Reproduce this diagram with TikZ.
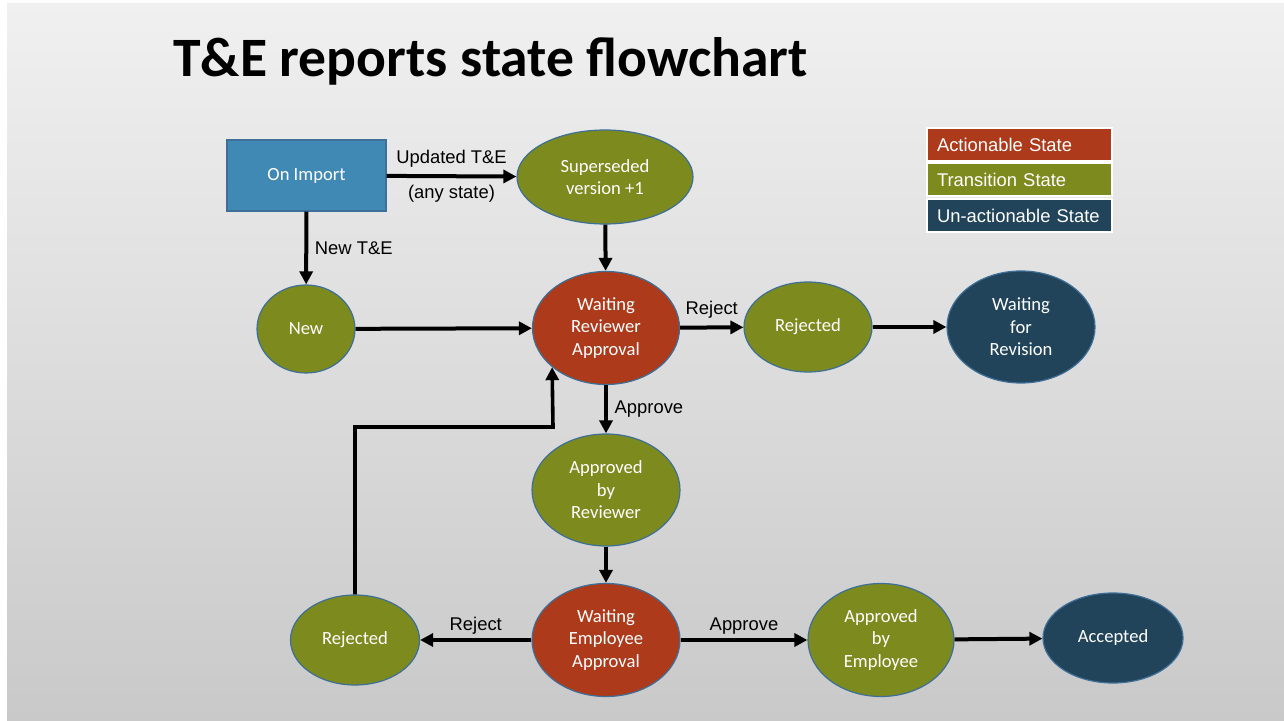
\documentclass[tikz,border=0pt]{standalone}
\usepackage{fontspec}
\setmainfont{Carlito}
\newfontfamily\arialfont{Liberation Sans}
\usetikzlibrary{arrows.meta,shapes.geometric}

\definecolor{actred}{HTML}{AD3A1B}
\definecolor{tranolive}{HTML}{7D8A1E}
\definecolor{unactblue}{HTML}{21445B}
\definecolor{importblue}{HTML}{4189B5}
\definecolor{rimblue}{HTML}{3E6F98}
\definecolor{bgtop}{HTML}{F0F0F0}
\definecolor{bgbot}{HTML}{C9C9C9}

\begin{document}
\begin{tikzpicture}[x=0.5pt, y=-0.5pt,
    state/.style={ellipse, draw=rimblue, line width=0.6pt, text=white, align=center,
        inner sep=1pt, font=\fontsize{9.3}{11.25}\selectfont},
    act/.style={state, fill=actred},
    tran/.style={state, fill=tranolive},
    unact/.style={state, fill=unactblue},
    lbl/.style={font=\arialfont\fontsize{9.2}{11}\selectfont, text=black},
    key/.style={rectangle, draw=white, line width=1pt, text=white, align=left,
        inner xsep=5pt, text width=82.5pt, minimum height=16.5pt,
        font=\arialfont\fontsize{9.2}{11}\selectfont},
    flow/.style={draw, -{Triangle[length=6.5pt,width=6.5pt]}, line width=2pt}]

        \useasboundingbox (0,0) rectangle (1284,721);
        \fill[white] (0,0) rectangle (1284,721);
        \shade[top color=bgtop, bottom color=bgbot] (7,4) rectangle (1284,721);

        \node[anchor=base west, inner sep=0pt, font=\bfseries\fontsize{27.8}{32}\selectfont] (title) at (173,77) {T\&E reports state flowchart};

        % legend
        \node[key, fill=actred] (keyact) at (1019.5,144.5) {Actionable State};
        \node[key, fill=tranolive] (keytran) at (1019.5,179.5) {Transition State};
        \node[key, fill=unactblue] (keyunact) at (1019.5,215.5) {Un-actionable State};

        % states
        \node[rectangle, draw=rimblue, fill=importblue, text=white, line width=0.6pt,
            minimum width=79.5pt, minimum height=35.5pt, font=\fontsize{9.3}{11.25}\selectfont] (imp) at (306.5,175.5) {On Import};
        \node[tran, minimum width=88pt, minimum height=47pt] (sups) at (605,177) {Superseded\\version +1};
        \node[tran, minimum width=49pt, minimum height=44pt] (new) at (306,329) {New};
        \node[act, minimum width=73.5pt, minimum height=56.5pt] (wra) at (606,328) {Waiting\\Reviewer\\Approval};
        \node[tran, minimum width=64pt, minimum height=45pt] (rejt) at (808,327) {Rejected};
        \node[unact, minimum width=74pt, minimum height=56pt] (wfr) at (1021,327) {Waiting\\for\\Revision};
        \node[tran, minimum width=74pt, minimum height=56pt] (abr) at (606,490) {Approved\\by\\Reviewer};
        \node[act, minimum width=74pt, minimum height=56.5pt] (wea) at (606,640) {Waiting\\Employee\\Approval};
        \node[tran, minimum width=64.5pt, minimum height=45pt] (rejb) at (355,640) {Rejected};
        \node[tran, minimum width=73pt, minimum height=56.5pt] (abe) at (881,640) {Approved\\by\\Employee};
        \node[unact, minimum width=70pt, minimum height=45pt] (acc) at (1113,638) {Accepted};

        \coordinate (back) at (553,427);

        \path[flow]
        (imp) edge node[lbl, above]{Updated T\&E} node[lbl, below]{(any state)} (sups)
        (imp) edge node[lbl, right]{New T\&E} (new)
        (sups) edge (wra)
        (new) edge (wra)
        (wra) edge node[lbl, above]{Reject} (rejt)
        (rejt) edge (wfr)
        (wra) edge node[lbl, right]{Approve} (abr)
        (abr) edge (wea)
        (wea) edge node[lbl, above=-1.5pt]{Reject} (rejb)
        (wea) edge node[lbl, above=-1.5pt]{Approve} (abe)
        (abe) edge (acc)
        ;
        \draw[flow, line width=1.8pt] (rejb.north) |- (back) -- (wra.216);

    \end{tikzpicture}
\end{document}
